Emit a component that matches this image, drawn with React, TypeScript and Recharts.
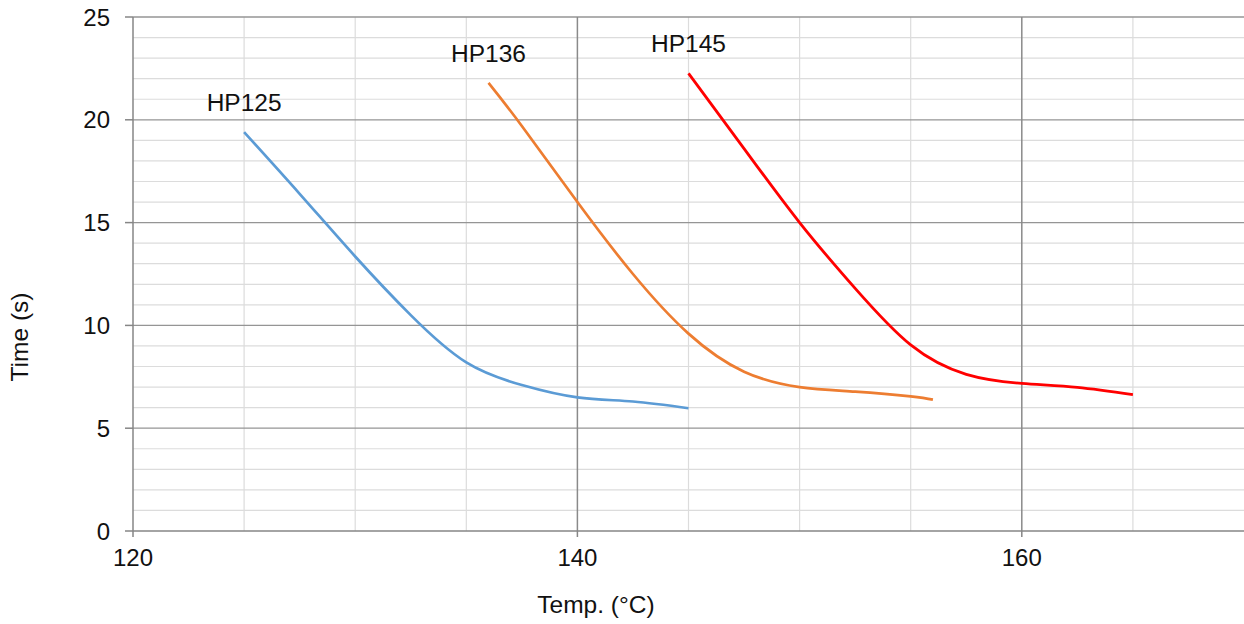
import React from 'react';
import { LineChart, Line, XAxis, YAxis, ReferenceLine, Label } from 'recharts';

// temperatures (°C) and times (s)
const hp125Temp = [125, 127.5, 130, 132.5, 135, 137.5, 140, 142.5, 145];
const hp125Time = [19.4, 16.4, 13.35, 10.5, 8.2, 7.1, 6.5, 6.3, 5.97];

const hp136Temp = [136, 137.5, 140, 142.5, 145, 147.5, 150, 152.5, 155, 156];
const hp136Time = [21.8, 19.7, 16.0, 12.5, 9.6, 7.75, 7.0, 6.78, 6.55, 6.39];

const hp145Temp = [145, 147.5, 150, 152.5, 155, 157.5, 160, 162.5, 165];
const hp145Time = [22.26, 18.6, 15.0, 11.8, 9.05, 7.62, 7.18, 6.99, 6.63];

const xTicks = [120, 140, 160];
const yTicks = [0, 5, 10, 15, 20, 25];
const xMinorGrid = [125, 130, 135, 145, 150, 155, 165];
const xMajorGrid = [140, 160];
const yMinorGrid = [1, 2, 3, 4, 6, 7, 8, 9, 11, 12, 13, 14, 16, 17, 18, 19, 21, 22, 23, 24];
const yMajorGrid = [5, 10, 15, 20, 25];

const toRows = (temps: number[], times: number[]) =>
  temps.map((t, i) => ({ temp: t, time: times[i] }));

const FONT = '"Liberation Sans", Arial, sans-serif';

const seriesLabel = (name: string) => (props: any) => {
  if (props.index !== 0) return <g />;
  return (
    <text x={props.x} y={props.y - 21} textAnchor="middle" fontSize={24.5} fill="#111" fontFamily={FONT}>
      {name}
    </text>
  );
};

const App = () => {
  return (
    <div style={{ position: 'absolute', left: 0, top: 0, fontFamily: FONT }}>
      <LineChart width={1244} height={624} margin={{ top: 17, right: 0, bottom: 0, left: 0 }}>
        <XAxis
          dataKey="temp"
          type="number"
          domain={[120, 170]}
          ticks={xTicks}
          height={93}
          axisLine={{ stroke: '#868686', strokeWidth: 1.5 }}
          tickLine={{ stroke: '#868686', strokeWidth: 1.5 }}
          tickSize={6}
          tickMargin={12}
          tick={{ fontSize: 24, fill: '#111', fontFamily: FONT }}
          allowDataOverflow
        >
          <Label
            content={(p: any) => (
              <text
                x={596}
                y={607}
                textAnchor="middle"
                dominantBaseline="middle"
                fontSize={24.5}
                fill="#111"
                fontFamily={FONT}
              >
                Temp. (°C)
              </text>
            )}
          />
        </XAxis>
        <YAxis
          dataKey="time"
          type="number"
          domain={[0, 25]}
          ticks={yTicks}
          width={133}
          axisLine={{ stroke: '#868686', strokeWidth: 1.5 }}
          tickLine={{ stroke: '#868686', strokeWidth: 1.5 }}
          tickSize={8}
          tickMargin={15}
          tick={{ fontSize: 24, fill: '#111', fontFamily: FONT }}
        >
          <Label
            content={(p: any) => (
              <text
                x={22}
                y={337}
                transform="rotate(-90 22 337)"
                textAnchor="middle"
                dominantBaseline="middle"
                fontSize={24.5}
                fill="#111"
                fontFamily={FONT}
              >
                Time (s)
              </text>
            )}
          />
        </YAxis>

        {yMinorGrid.map((v) => (
          <ReferenceLine key={'ym' + v} y={v} stroke="#dcdcdc" strokeWidth={1.2} />
        ))}
        {xMinorGrid.map((v) => (
          <ReferenceLine key={'xm' + v} x={v} stroke="#dcdcdc" strokeWidth={1.2} />
        ))}
        {yMajorGrid.map((v) => (
          <ReferenceLine key={'yM' + v} y={v} stroke="#959595" strokeWidth={1.3} />
        ))}
        {xMajorGrid.map((v) => (
          <ReferenceLine key={'xM' + v} x={v} stroke="#8a8a8a" strokeWidth={1.5} />
        ))}

        <Line
          data={toRows(hp125Temp, hp125Time)}
          dataKey="time"
          type="natural"
          stroke="#5B9BD5"
          strokeWidth={2.7}
          dot={false}
          isAnimationActive={false}
          label={seriesLabel('HP125')}
        />
        <Line
          data={toRows(hp136Temp, hp136Time)}
          dataKey="time"
          type="natural"
          stroke="#ED7D31"
          strokeWidth={2.7}
          dot={false}
          isAnimationActive={false}
          label={seriesLabel('HP136')}
        />
        <Line
          data={toRows(hp145Temp, hp145Time)}
          dataKey="time"
          type="natural"
          stroke="#FF0000"
          strokeWidth={2.8}
          dot={false}
          isAnimationActive={false}
          label={seriesLabel('HP145')}
        />
      </LineChart>
    </div>
  );
};

export default App;
